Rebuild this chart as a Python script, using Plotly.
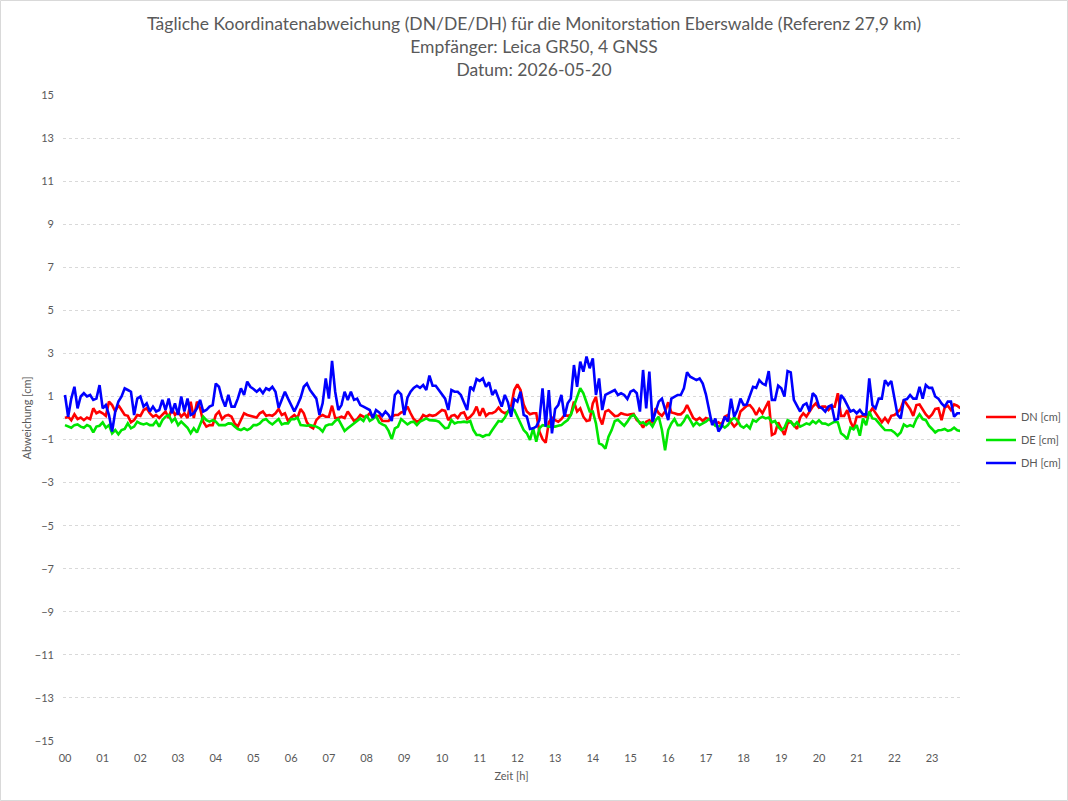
import plotly.graph_objects as go

# ---- data (cm), 5-minute samples starting 00:00 ----
DN = [0.0, 0.06, -0.1, 0.17, -0.05, 0.02, -0.1, 0.02, -0.05, 0.45, 0.22, 0.3, 0.22, 0.1, 0.76, 0.6, 0.3, 0.6, 0.37, 0.14,
      0.1, -0.2, -0.1, 0.14, 0.1, 0.37, 0.45, 0.22, 0.06, 0.14, 0.0, 0.14, 0.3, 0.0, 0.45, 0.14, 0.3, 0.06, 0.22, 0.0,
      0.76, 0.0, 0.76, 0.45, -0.17, -0.4, -0.33,
      -0.33, 0.14, 0.3, -0.05, 0.1, 0.14, 0.06, -0.25, -0.4, -0.05, 0.22, 0.14, 0.1, 0.06, 0.02, 0.22, 0.3, 0.1, 0.14, 0.1,
      0.22, 0.42, 0.14, 0.22, -0.14, 0.02, 0.14, 0.0, 0.42, 0.22, -0.2, -0.4, -0.48, -0.1, 0.06, 0.14, 0.06, 0.06, 0.57,
      0.0, 0.0, 0.06, 0.0, 0.3, 0.1, -0.14,
      -0.05, 0.14, 0.06, 0.06, 0.22, 0.02, 0.09, 0.1, -0.14, -0.14, -0.14, 0.06, 0.14, 0.14, 0.26, 0.3, 0.53, 0.22, -0.05,
      -0.17, -0.1, 0.14, 0.06, 0.14, 0.1, 0.14, 0.26, 0.37, 0.33, -0.1, 0.1, 0.14, 0.0, 0.22, 0.26, -0.05, 0.06, 0.22, 0.53,
      0.1, 0.45, 0.1, 0.22, 0.22, 0.3, 0.48,
      0.3, 0.22, 0.3, 0.53, 1.3, 1.56, 1.3, 0.63, 0.3, 0.17, 0.22, 0.22, -0.63, -0.98, -1.15, -0.2, 0.02, -0.1, -0.17, -0.05,
      0.14, 0.1, 0.14, 0.76, 0.3, 0.45, 0.06, -0.14, -0.1, 0.68, 0.99, 0.06, -0.3, 0.3, 0.37, 0.22, 0.09, 0.1, 0.22, 0.17,
      0.14, 0.17, 0.19, -0.1, -0.2, -0.45,
      -0.17, -0.1, -0.2, 0.45, 0.22, 0.1, 0.3, 0.73, 0.26, 0.22, 0.17, 0.17, 0.3, 0.6, 0.26, 0.0, -0.1, 0.0, -0.14, 0.0,
      -0.05, -0.2, -0.3, -0.2, -0.3, 0.06, 0.14, -0.2, -0.4, -0.25, 0.3, 0.42, 0.57, 0.6, 0.42, 0.14, 0.42, 0.22, 0.53, 0.79,
      -0.79, -0.71, -0.2, -0.51, -0.79, -0.25,
      -0.17, -0.33, -0.51, 0.02, 0.22, 0.06, 0.3, 0.53, 0.68, 0.48, 0.53, 0.53, 0.37, 0.53, 0.53, 1.15, 0.1, 0.1, 0.37, -0.17,
      -0.48, 0.06, 0.06, 0.1, 0.06, 0.22, 0.45, 0.22, 0.0, -0.2, 0.0, -0.2, 0.1, 0.14, 0.26, 0.42, 0.84, 0.63, 0.42, 0.1,
      0.6, 0.63, 0.37, 0.17, 0.02, 0.17, 0.42, 0.45, -0.1, 0.48, 0.57, 0.37, 0.63, 0.57, 0.45]

DE = [-0.33, -0.4, -0.45, -0.33, -0.3, -0.4, -0.45, -0.33, -0.4, -0.67, -0.4, -0.36, -0.2, -0.45, -0.33, -0.71, -0.56,
      -0.76, -0.56, -0.51, -0.25, -0.48, -0.4, -0.17, -0.26, -0.3, -0.25, -0.33, -0.33, -0.14, -0.4, -0.1, 0.06, 0.14,
      -0.17, -0.02, -0.33, -0.17, -0.33, -0.45, -0.71, -0.48, -0.67, -0.33, 0.06, -0.1, -0.17,
      -0.1, -0.17, -0.33, -0.33, -0.33, -0.25, -0.26, -0.4, -0.51, -0.56, -0.48, -0.56, -0.48, -0.33, -0.33, -0.25, -0.1,
      -0.05, -0.2, -0.3, -0.17, -0.05, -0.3, -0.25, -0.25, -0.05, -0.05, 0.02, -0.33, -0.36, -0.36, -0.33, -0.36, -0.4,
      -0.48, -0.63, -0.36, -0.3, -0.3, -0.14, -0.05, -0.33, -0.6, -0.48, -0.36, -0.26,
      -0.1, -0.02, -0.14, 0.14, -0.14, -0.05, 0.1, -0.2, -0.3, -0.36, -0.6, -0.98, -0.48, -0.4, -0.05, -0.17, -0.3, -0.2,
      -0.17, -0.33, -0.17, -0.1, -0.02, -0.1, -0.1, -0.12, -0.17, -0.33, -0.48, -0.45, -0.1, -0.25, -0.2, -0.2, -0.17,
      -0.2, -0.14, -0.56, -0.79, -0.79, -0.87, -0.79, -0.79, -0.56, -0.33, -0.14,
      -0.17, 0.02, 0.3, 0.45, 0.37, 0.06, -0.25, -0.56, -0.71, -1.02, -0.48, -1.1, -0.48, -0.33, -0.36, -0.4, -0.4, -0.4,
      -0.36, -0.33, -0.2, -0.1, 0.14, 0.53, 0.9, 1.38, 1.15, 0.76, 0.3, 0.3, -0.25, -1.18, -1.25, -1.42, -0.87, -0.56,
      -0.14, -0.08, -0.23, -0.36, -0.17, 0.06, 0.14, -0.02, -0.25, -0.2,
      -0.33, -0.2, -0.4, -0.1, 0.06, -0.56, -1.5, -0.56, -0.25, -0.05, -0.33, -0.33, -0.14, 0.14, -0.1, -0.36, -0.2, -0.33,
      -0.25, -0.17, -0.05, -0.14, -0.36, -0.4, -0.33, -0.45, -0.33, -0.1, 0.02, -0.1, -0.36, -0.45, -0.33, -0.48, -0.1,
      -0.17, -0.02, 0.06, -0.02, 0.02, -0.2, -0.14, -0.4, -0.56, -0.45, -0.1,
      -0.17, -0.36, -0.2, -0.4, -0.33, -0.25, -0.3, -0.14, -0.25, -0.11, -0.25, -0.26, -0.33, -0.25, -0.17, -0.2, -0.71,
      -0.82, -0.98, -0.45, -0.53, -0.33, -0.82, -0.02, -0.33, 0.3, -0.02, -0.05, -0.25, -0.4, -0.56, -0.56, -0.57, -0.67,
      -0.82, -0.67, -0.3, -0.4, -0.33, -0.4, -0.05, 0.17, -0.05, -0.1, -0.36, -0.51, -0.67, -0.57, -0.56, -0.51, -0.6,
      -0.56, -0.45, -0.57, -0.6]

DH = [1.07, 0.06, 0.9, 1.45, 0.45, 1.0, 1.15, 1.0, 1.07, 0.84, 0.9, 1.53, 0.45, 0.6, 0.14, -0.63, 0.3, 0.76, 1.0, 1.38,
      1.3, 1.22, 0.14, 0.9, 1.0, 0.53, 0.68, 0.3, 0.53, 0.3, 0.37, 0.84, 0.37, 0.9, 0.22, 0.68, 0.14, 1.0, 0.3, 0.9, 0.14,
      0.22, 0.45, 0.84, 0.3, 0.37, 0.53,
      0.6, 1.6, 1.45, 0.9, 0.53, 1.07, 0.53, 0.53, 0.9, 1.38, 1.07, 1.69, 1.45, 1.35, 1.22, 1.35, 1.15, 1.38, 1.3, 1.45,
      1.22, 0.48, 0.84, 1.22, 0.9, 0.6, 0.3, 0.6, 0.94, 1.45, 1.6, 1.3, 1.1, 0.9, 0.14, 0.68, 1.84, 0.9, 2.65, 1.22, 0.37,
      0.6, 1.22, 0.84, 1.22, 0.84,
      0.9, 0.6, 0.53, 0.45, 0.37, 0.0, 0.37, 0.26, 0.1, 0.3, 0.14, -0.14, 1.07, 1.25, 1.1, 0.14, 0.94, 1.22, 1.4, 1.5, 1.4,
      1.53, 1.3, 1.97, 1.5, 1.5, 1.3, 1.15, 0.9, 0.37, 1.3, 1.22, 1.22, 1.07, 0.68, 0.37, 1.45, 1.3, 1.81, 1.72, 1.84, 1.45,
      1.66, 1.07, 1.3, 0.94,
      0.53, 1.07, 0.73, 0.06, 0.88, 0.76, 1.22, 0.14, 0.06, -0.51, -0.48, -0.4, -0.1, 1.38, -0.4, 1.3, -0.71, 0.42, 0.6,
      1.07, 0.06, 0.68, 0.9, 2.46, 1.45, 2.62, 2.15, 2.85, 2.31, 2.77, 1.07, 1.84, 0.37, 1.07, 1.15, 1.22, 1.3, 1.07, 1.15,
      1.07, 0.88, 1.22, 1.3, 1.15, 0.3, 2.23,
      0.45, 2.15, -0.17, 0.3, 0.76, 0.9, 0.45, -0.1, 0.9, 1.0, 1.07, 1.07, 1.38, 2.12, 1.92, 1.84, 1.76, 1.84, 1.6, 1.1, 0.3,
      -0.33, -0.02, -0.63, -0.4, 0.06, -0.17, 0.9, 0.06, 0.37, 0.9, 0.6, 0.63, 1.07, 1.45, 1.4, 1.76, 1.6, 1.53, 2.18, 0.84,
      0.84, 1.5, 1.38, 1.0, 2.18,
      2.12, 0.84, 0.53, 0.3, 0.6, 0.68, 0.3, 1.15, 1.0, 0.53, 0.45, 0.3, 0.53, 0.6, -0.1, -0.05, 1.07, 0.88, 0.6, 0.3, 0.37,
      0.22, 0.37, 0.17, 0.17, 1.84, 0.6, 0.45, 0.9, 0.9, 1.76, 1.53, 1.72, 0.84, 0.14, -0.02, 0.84, 0.88, 1.07, 0.9, 0.9,
      1.45, 0.9, 1.53, 1.4, 1.4, 1.0, 0.9, 0.68, 0.53, 0.76, 0.76, 0.06, 0.22, 0.22]

SERIES_NAMES = ["DN [cm]", "DE [cm]", "DH [cm]"]
SERIES_COLORS = ["#FF0000", "#00E600", "#0000FF"]
HOUR_LABELS = [f"{h:02d}" for h in range(24)]
Y_TICKS = list(range(-15, 16, 2))
SAMPLES_PER_HOUR = 12

TITLE = ("Tägliche Koordinatenabweichung (DN/DE/DH) für die Monitorstation Eberswalde (Referenz 27,9 km)"
         "<br>Empfänger: Leica GR50, 4 GNSS<br>Datum: 2026-05-20")

FONT = "Lato, 'Open Sans', sans-serif"
GREY = "#595959"

W, H = 1068, 801
ML, MR, MT, MB = 63, 108, 95, 60
PW, PH = W - ML - MR, H - MT - MB

fig = go.Figure()
for i, (name, vals, col) in enumerate(zip(SERIES_NAMES, [DN, DE, DH], SERIES_COLORS)):
    x = [k / SAMPLES_PER_HOUR for k in range(len(vals))]
    fig.add_trace(go.Scatter(x=x, y=vals, mode="lines", name=name, legendgroup=f"g{i}",
                             line=dict(color=col, width=2.6)))

fig.update_layout(
    width=W, height=H,
    margin=dict(l=ML, r=MR, t=MT, b=MB, autoexpand=False),
    paper_bgcolor="white", plot_bgcolor="white",
    font=dict(family=FONT, color=GREY, size=11),
    title=dict(text=TITLE, x=0.5, xanchor="center", xref="container", yref="container",
               y=0.962, yanchor="top",
               font=dict(family=FONT, size=17.5, color=GREY)),
    showlegend=True,
    legend=dict(x=(981 - ML) / PW, xanchor="left", y=(741 - 440) / PH, yanchor="middle",
                font=dict(size=11, color=GREY), tracegroupgap=4, itemwidth=30,
                bgcolor="rgba(0,0,0,0)"),
    xaxis=dict(range=[-0.053, 23.74], tickmode="array", tickvals=list(range(24)), ticktext=HOUR_LABELS,
               showgrid=False, zeroline=False, showline=False, ticks="",
               ticklabelstandoff=9, tickfont=dict(size=11, color=GREY),
               title=dict(text="Zeit [h]", font=dict(size=11, color=GREY), standoff=9)),
    yaxis=dict(range=[-15, 15], tickmode="array", tickvals=Y_TICKS,
               showgrid=True, gridcolor="#D9D9D9", griddash="dot", gridwidth=1,
               zeroline=True, zerolinecolor="#D9D9D9", zerolinewidth=1,
               showline=False, ticks="", ticklabelstandoff=8, tickfont=dict(size=11, color=GREY),
               title=dict(text="Abweichung [cm]", font=dict(size=11, color=GREY), standoff=1)),
)

fig.add_shape(type="rect", xref="paper", yref="paper",
              x0=(0.5 - ML) / PW, x1=(W - 0.5 - ML) / PW,
              y0=-(MB - 0.5) / PH, y1=1 + (MT - 0.5) / PH,
              line=dict(color="#D9D9D9", width=1), fillcolor="rgba(0,0,0,0)", layer="below")

fig.write_html("out.html")
